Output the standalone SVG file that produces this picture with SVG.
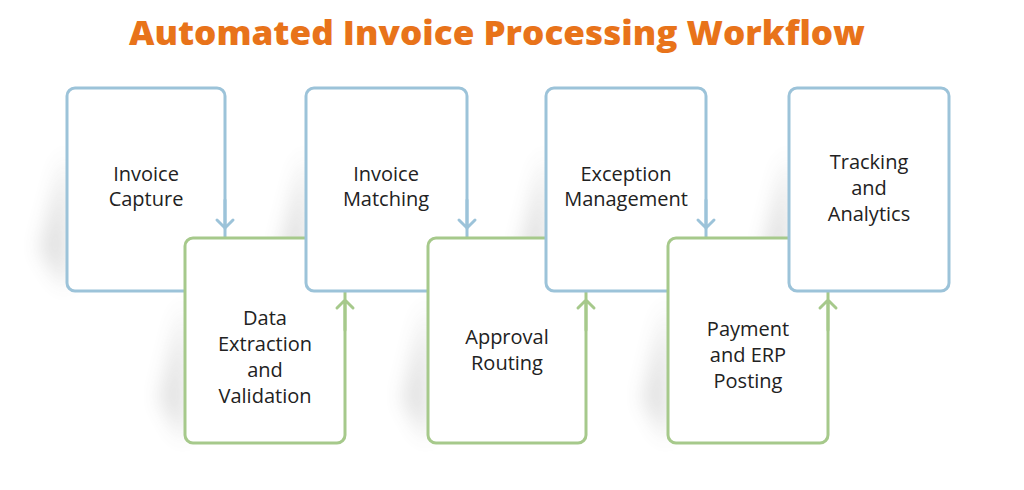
<svg xmlns="http://www.w3.org/2000/svg" width="1024" height="490" viewBox="0 0 1024 490">
<defs>
<style>
.b{fill:#fff;stroke:#9cc3d9;stroke-width:3}
.g{fill:#fff;stroke:#a6c98b;stroke-width:3}
.t{font-family:"Open Sans","Liberation Sans",sans-serif;font-size:20px;fill:#222;text-anchor:middle}
.ab{fill:none;stroke:#9cc3d9;stroke-width:3;stroke-linecap:round}
.ag{fill:none;stroke:#a6c98b;stroke-width:3;stroke-linecap:round}
</style>
<filter id="sh" x="-50%" y="-50%" width="200%" height="200%"><feGaussianBlur stdDeviation="10"/></filter>
</defs>
<rect width="1024" height="490" fill="#fff"/>
<text x="497" y="45" font-family="'Open Sans',Lato,sans-serif" font-weight="800" font-size="33" fill="#e8731a" text-anchor="middle" textLength="736" lengthAdjust="spacingAndGlyphs">Automated Invoice Processing Workflow</text>
<g opacity="0.18" filter="url(#sh)">
<path d="M67 150 L40 250 L67 291 Z" fill="#555"/>
<path d="M185 300 L160 400 L185 443 Z" fill="#555"/>
<path d="M306 150 L280 250 L306 291 Z" fill="#555"/>
<path d="M428 300 L403 400 L428 443 Z" fill="#555"/>
<path d="M546 150 L520 250 L546 291 Z" fill="#555"/>
<path d="M668 300 L643 400 L668 443 Z" fill="#555"/>
<path d="M789 150 L763 250 L789 291 Z" fill="#555"/>
</g>
<g id="n1"><rect class="b" x="67" y="88" width="158" height="203" rx="8"/><text class="t" x="146" y="181">Invoice</text><text class="t" x="146" y="206">Capture</text></g>
<g id="n2"><rect class="g" x="185" y="238" width="160" height="205" rx="8"/><text class="t" x="265" y="325">Data</text><text class="t" x="265" y="351">Extraction</text><text class="t" x="265" y="377">and</text><text class="t" x="265" y="403">Validation</text></g>
<g id="n3"><rect class="b" x="306" y="88" width="161" height="203" rx="8"/><text class="t" x="386" y="181">Invoice</text><text class="t" x="386" y="206">Matching</text></g>
<g id="n4"><rect class="g" x="428" y="238" width="158" height="205" rx="8"/><text class="t" x="507" y="344">Approval</text><text class="t" x="507" y="370">Routing</text></g>
<g id="n5"><rect class="b" x="546" y="88" width="160" height="203" rx="8"/><text class="t" x="626" y="181">Exception</text><text class="t" x="626" y="206">Management</text></g>
<g id="n6"><rect class="g" x="668" y="238" width="160" height="205" rx="8"/><text class="t" x="748" y="336">Payment</text><text class="t" x="748" y="362">and ERP</text><text class="t" x="748" y="388">Posting</text></g>
<g id="n7"><rect class="b" x="789" y="88" width="160" height="203" rx="8"/><text class="t" x="869" y="169">Tracking</text><text class="t" x="869" y="195">and</text><text class="t" x="869" y="221">Analytics</text></g>
<g id="connectors">
<path class="ab" d="M225 200 V228 M217 220 L225 228 L233 220"/>
<path class="ab" d="M467 200 V228 M459 220 L467 228 L475 220"/>
<path class="ab" d="M706 200 V228 M698 220 L706 228 L714 220"/>
<path class="ag" d="M345 330 V300 M337 308 L345 300 L353 308"/>
<path class="ag" d="M586 330 V300 M578 308 L586 300 L594 308"/>
<path class="ag" d="M828 330 V300 M820 308 L828 300 L836 308"/>
</g>
</svg>
